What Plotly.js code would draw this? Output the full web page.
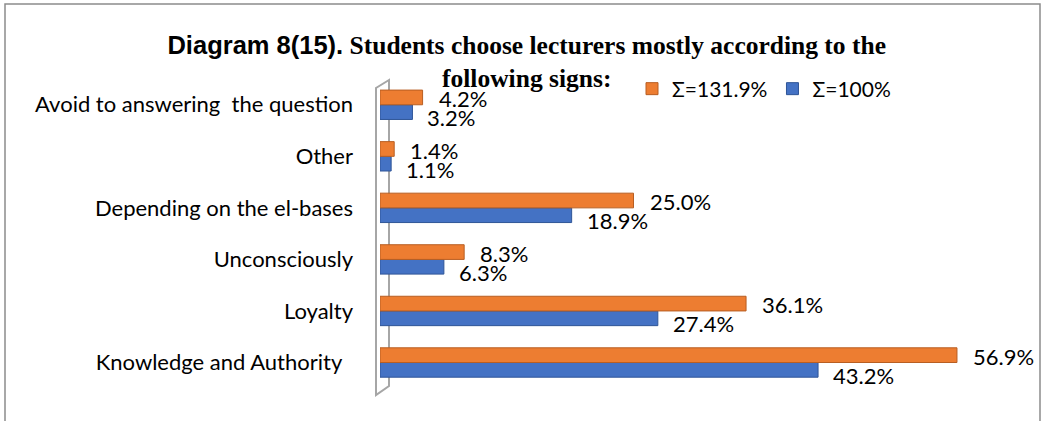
<!DOCTYPE html>
<html>
<head>
<meta charset="utf-8">
<script src="https://cdn.plot.ly/plotly-3.0.1.min.js"></script>
<style>
html,body{margin:0;padding:0;background:#fff;}
#chart{width:1043px;height:421px;}
</style>
</head>
<body>
<div id="chart"></div>
<script>
// Data (bottom to top)
const categories = [
  "Knowledge and Authority\u00a0\u00a0",
  "Loyalty",
  "Unconsciously",
  "Depending on the el-bases",
  "Other",
  "Avoid to answering \u00a0the question"
];
const series131 = [56.9, 36.1, 8.3, 25.0, 1.4, 4.2];   // Σ=131.9%
const series100 = [43.2, 27.4, 6.3, 18.9, 1.1, 3.2];   // Σ=100%
const name131 = "Σ=131.9%";
const name100 = "Σ=100%";

const W = 1043, H = 421;
const L = 380, R = 43, T = 79, B = 30;
const PW = W - L - R, PH = H - T - B;
const px = x => (x - L) / PW;
const py = y => (H - B - y) / PH;

const orange = "#ED7D31", orangeDark = "#B85E22";
const blue = "#4472C4", blueDark = "#2F5597";
const sans = "Lato, Open Sans, sans-serif";

const traces = [
  {
    type: "bar", orientation: "h", name: name100,
    y: categories, x: series100,
    marker: {color: blue, line: {color: blueDark, width: 1}},
    hoverinfo: "x+y"
  },
  {
    type: "bar", orientation: "h", name: name131,
    y: categories, x: series131,
    marker: {color: orange, line: {color: orangeDark, width: 1}},
    hoverinfo: "x+y"
  }
];

const annotations = [];
categories.forEach((c, i) => {
  annotations.push({
    x: series131[i], y: c, xref: "x", yref: "y",
    text: series131[i].toFixed(1) + "%", showarrow: false,
    xanchor: "left", yanchor: "middle", xshift: 14, yshift: 6,
    font: {family: sans, size: 22, color: "#000"}
  });
  annotations.push({
    x: series100[i], y: c, xref: "x", yref: "y",
    text: series100[i].toFixed(1) + "%", showarrow: false,
    xanchor: "left", yanchor: "middle", xshift: 13, yshift: -13,
    font: {family: sans, size: 22, color: "#000"}
  });
});

const shapes = [
  // outer chart frame
  {type: "rect", xref: "paper", yref: "paper",
   x0: px(5), x1: px(1040), y0: py(430), y1: py(4),
   line: {color: "#8c8c8c", width: 1.5}, fillcolor: "rgba(0,0,0,0)", layer: "below"},
  // 3D side wall
  {type: "path", xref: "paper", yref: "paper", layer: "below",
   path: `M ${px(389)},${py(80)} L ${px(376)},${py(88)} L ${px(376)},${py(395)} L ${px(389)},${py(386)} Z`,
   line: {color: "#a6a6a6", width: 2}, fillcolor: "rgba(255,255,255,0)"}
];

const layout = {
  width: W, height: H,
  margin: {l: L, r: R, t: T, b: B, pad: 0},
  paper_bgcolor: "#fff", plot_bgcolor: "rgba(0,0,0,0)",
  title: {
    text: "<b><span style=\"font-family:Liberation Sans, sans-serif\">Diagram 8(15).</span> Students choose lecturers mostly according to the<br>following signs:</b>",
    font: {family: "Liberation Serif, serif", size: 25.5, color: "#000"},
    x: 0.505, xanchor: "center", xref: "container",
    y: 1 - 54 / H, yanchor: "top", yref: "container"
  },
  barmode: "group",
  bargap: 0.43, bargroupgap: 0,
  xaxis: {
    range: [0, PW / 10.14], showgrid: false, zeroline: false,
    showticklabels: false, showline: false, ticks: "", fixedrange: true
  },
  yaxis: {
    type: "category", showgrid: false, zeroline: false, showline: false,
    ticks: "", ticklabelstandoff: 26,
    tickfont: {family: sans, size: 22, color: "#000"}
  },
  showlegend: true,
  legend: {
    orientation: "h", traceorder: "reversed",
    x: px(632), xanchor: "left", y: py(89), yanchor: "middle",
    font: {family: sans, size: 21, color: "#000"},
    bgcolor: "rgba(0,0,0,0)", itemwidth: 30
  },
  annotations: annotations,
  shapes: shapes
};

Plotly.newPlot("chart", traces, layout, {displayModeBar: false, staticPlot: true});
</script>
</body>
</html>
